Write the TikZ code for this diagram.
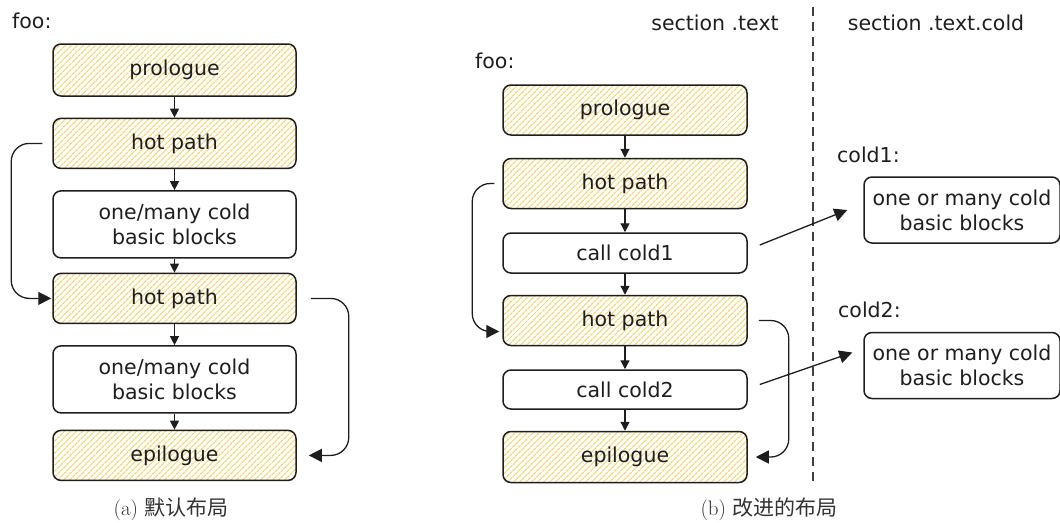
\documentclass[tikz,border=0pt]{standalone}
\usepackage{fontspec}
\newfontfamily\handfont{DejaVu Sans}
\newfontfamily\cjk{Noto Sans CJK SC}
\usetikzlibrary{arrows.meta,positioning,patterns.meta}
\definecolor{ink}{HTML}{1E1E1E}
\definecolor{hatch}{HTML}{F6D56E}
\definecolor{capink}{HTML}{333333}
\newcommand{\sketchtext}{\fontsize{20.5}{25}\selectfont\handfont}
\tikzset{
  >={Triangle[length=9pt,width=9pt]},
  every node/.style={text=ink},
  box/.style={draw=ink,line width=1.5pt,rounded corners=8pt,minimum width=243pt,align=center,inner sep=2pt,font=\sketchtext},
  hotbox/.style={box,pattern={Lines[angle=45,distance=4pt,line width=1.3pt]},pattern color=hatch},
  coldbox/.style={box,fill=white},
  flow/.style={->,line width=1.3pt,draw=ink},
  jump/.style={-{Triangle[length=13pt,width=13pt]},line width=1.3pt,draw=ink,rounded corners=18pt},
  reach/.style={-{Triangle[length=13pt,width=13pt]},line width=1.3pt,draw=ink},
  tag/.style={font=\sketchtext,inner sep=0pt},
  caption/.style={font=\fontsize{21}{24}\selectfont,text=capink,inner sep=0pt,anchor=base},
  split/.style={draw=ink!85,line width=1.5pt,dash pattern=on 9pt off 6pt},
}

\begin{document}
\begin{tikzpicture}[x=1pt,y=-1pt]
\useasboundingbox (0,0) rectangle (1060,522);

\node[tag,anchor=base west] (fooA) at (12,28) {foo:};
\node[hotbox,minimum height=52pt] (proA) at (174.5,70) {prologue};
\node[hotbox,minimum height=50pt,below=21pt of proA] (hotA) {hot path};
\node[coldbox,minimum height=67pt,below=21pt of hotA] (coldA) {one/many cold\\basic blocks};
\node[hotbox,minimum height=50pt,below=14pt of coldA] (hotB) {hot path};
\node[coldbox,minimum height=67pt,below=21pt of hotB] (coldB) {one/many cold\\basic blocks};
\node[hotbox,minimum height=50pt,below=16pt of coldB] (epiA) {epilogue};
\node[caption] (capA) at (171,515) {(a) {\cjk 默认布局}};

\draw[flow] (proA) -- (hotA);
\draw[flow] (hotA) -- (coldA);
\draw[flow] (coldA) -- (hotB);
\draw[flow] (hotB) -- (coldB);
\draw[flow] (coldB) -- (epiA);
\draw[jump] ([xshift=-10pt]hotA.west) -| ([xshift=-41pt]hotB.west) -- ([xshift=-1pt]hotB.west);
\draw[jump] ([xshift=14pt]hotB.east) -| ([xshift=52pt]epiA.east) -- ([xshift=12pt]epiA.east);

\node[tag,anchor=base] (textsec) at (715,30) {section .text};
\node[tag,anchor=base] (coldsec) at (936,30) {section .text.cold};
\coordinate (splitTop) at (813,7);
\coordinate (splitBot) at (813,483);
\draw[split] (splitTop) -- (splitBot);

\node[tag,anchor=base west] (fooB) at (475,68) {foo:};
\node[hotbox,minimum width=244pt,minimum height=50pt] (proB) at (625,110) {prologue};
\node[hotbox,minimum width=244pt,minimum height=50pt,below=22pt of proB] (hotC) {hot path};
\node[coldbox,minimum width=244pt,minimum height=40pt,below=23pt of hotC] (callA) {call cold1};
\node[hotbox,minimum width=244pt,minimum height=50pt,below=21pt of callA] (hotD) {hot path};
\node[coldbox,minimum width=244pt,minimum height=39pt,below=23pt of hotD] (callB) {call cold2};
\node[hotbox,minimum width=244pt,minimum height=51pt,below=21pt of callB] (epiB) {epilogue};
\node[caption] (capB) at (769,515) {(b) {\cjk 改进的布局}};

\node[tag,anchor=base west] (coldlabA) at (837,162) {cold1:};
\node[coldbox,minimum width=196pt,minimum height=66pt] (coldC) at (962,210) {one or many cold\\basic blocks};
\node[tag,anchor=base west] (coldlabB) at (838,317) {cold2:};
\node[coldbox,minimum width=196pt,minimum height=66pt,below=88pt of coldC] (coldD) {one or many cold\\basic blocks};

\draw[flow] (proB) -- (hotC);
\draw[flow] (hotC) -- (callA);
\draw[flow] (callA) -- (hotD);
\draw[flow] (hotD) -- (callB);
\draw[flow] (callB) -- (epiB);
\draw[jump] ([xshift=-8pt]hotC.west) -| ([xshift=-30pt,yshift=-11pt]hotD.west) -- ([xshift=-3pt,yshift=-11pt]hotD.west);
\draw[jump] ([xshift=11pt]hotD.east) -| ([xshift=41pt]epiB.east) -- ([xshift=8pt]epiB.east);
\draw[reach] ([xshift=12pt,yshift=8pt]callA.east) -- ([xshift=-16pt]coldC.west);
\draw[reach] ([xshift=12pt,yshift=5pt]callB.east) -- ([xshift=-11pt,yshift=13pt]coldD.west);
\end{tikzpicture}
\end{document}
